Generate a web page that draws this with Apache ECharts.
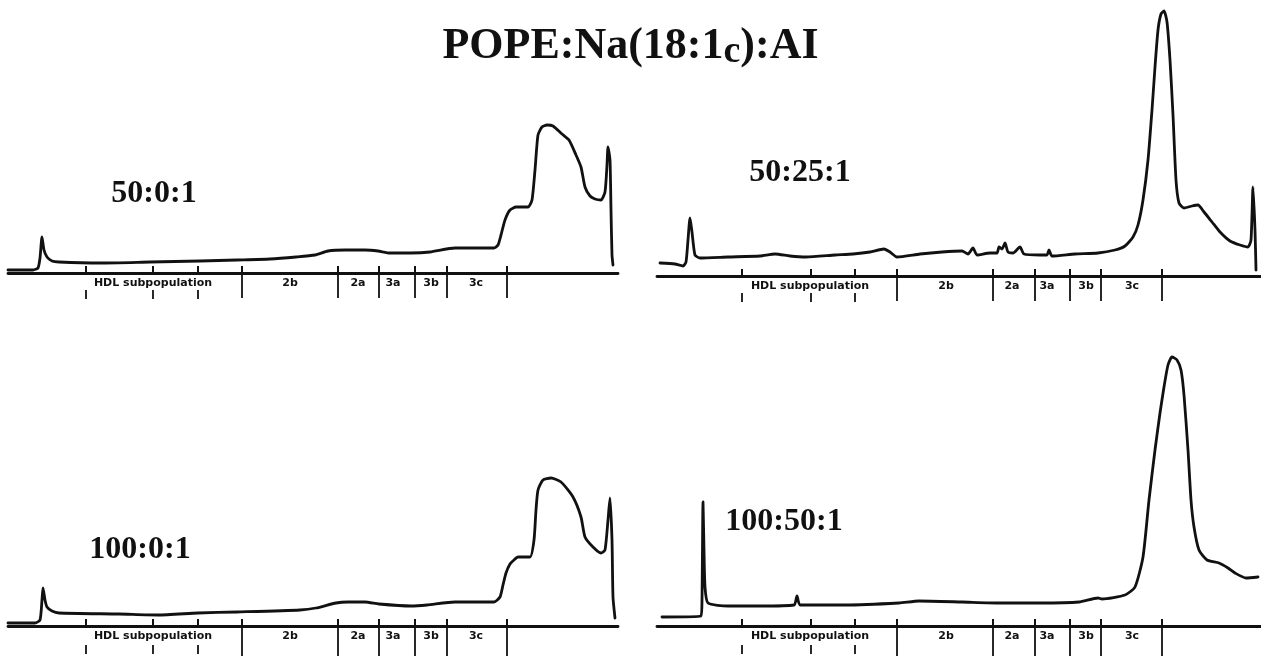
<!DOCTYPE html>
<html>
<head>
<meta charset="utf-8">
<title>POPE:Na(18:1c):AI</title>
<script src="https://cdn.jsdelivr.net/npm/echarts@6/dist/echarts.min.js"></script>
<style>
  html, body { margin: 0; padding: 0; background: #fff; }
  #chart { width: 1261px; height: 656px; }
</style>
</head>
<body>
<div id="chart"></div>
<script>
// 各面板的洗脱曲线 [x, 信号]（任意单位，从图上读取）
var trace50_0_1 = [
  [0, 3], [25, 3], [30, 5], [32, 15], [34, 36], [36, 23], [39, 16], [44, 12], [51, 11],
  [92, 10], [142, 11], [192, 12], [229, 13], [262, 14], [288, 16], [307, 18], [320, 22],
  [337, 23], [357, 23], [370, 22], [382, 20], [403, 20], [422, 21], [447, 25], [467, 25],
  [486, 25], [490, 28], [493, 38], [497, 53], [502, 63], [508, 66], [520, 66], [524, 73],
  [527, 103], [530, 138], [534, 146], [539, 148], [545, 147], [554, 139], [561, 133],
  [568, 118], [573, 106], [577, 86], [582, 77], [587, 74], [593, 73], [597, 81], [599, 108],
  [600, 126], [602, 113], [603, 63], [604, 18], [605, 8]
];
var trace50_25_1 = [
  [3, 13], [18, 12], [26, 10], [29, 14], [31, 36], [33, 58], [35, 44], [38, 21], [43, 18],
  [71, 19], [103, 20], [118, 22], [133, 20], [149, 19], [178, 21], [196, 22], [213, 24],
  [227, 27], [233, 24], [240, 19], [263, 22], [285, 24], [305, 25], [311, 22], [316, 28],
  [320, 21], [333, 23], [340, 23], [342, 29], [345, 27], [348, 33], [351, 24], [356, 23],
  [363, 29], [367, 22], [383, 21], [390, 21], [392, 26], [395, 20], [418, 22], [441, 23],
  [458, 26], [468, 30], [476, 39], [481, 51], [486, 76], [491, 116], [495, 166], [498, 209],
  [501, 246], [504, 262], [507, 265], [510, 254], [513, 216], [516, 161], [519, 96],
  [522, 73], [527, 68], [535, 70], [541, 71], [547, 64], [555, 54], [563, 44], [573, 35],
  [583, 31], [591, 29], [594, 36], [596, 89], [598, 46], [599, 6]
];
var trace100_0_1 = [
  [0, 3], [27, 3], [32, 6], [34, 26], [35, 38], [37, 26], [39, 19], [44, 15], [51, 13],
  [111, 12], [150, 11], [190, 13], [229, 14], [292, 16], [308, 18], [328, 23], [340, 24],
  [357, 24], [371, 22], [403, 20], [419, 21], [447, 24], [486, 24], [492, 29], [495, 41],
  [498, 53], [502, 62], [506, 66], [510, 69], [522, 69], [526, 86], [528, 116], [530, 136],
  [535, 146], [543, 148], [553, 144], [565, 129], [573, 109], [577, 89], [585, 79],
  [593, 73], [597, 76], [600, 106], [602, 128], [604, 86], [605, 29], [607, 8]
];
var trace100_50_1 = [
  [5, 9], [44, 10], [45, 26], [46, 124], [47, 76], [48, 39], [51, 23], [71, 20], [103, 20],
  [137, 21], [140, 30], [143, 21], [188, 21], [242, 23], [262, 25], [305, 24], [343, 23],
  [383, 23], [422, 24], [441, 28], [445, 27], [468, 31], [478, 39], [486, 69], [492, 126],
  [498, 176], [503, 213], [507, 239], [511, 261], [515, 269], [520, 266], [524, 256],
  [527, 231], [531, 176], [534, 126], [537, 99], [542, 76], [550, 66], [562, 63],
  [571, 58], [578, 53], [589, 48], [601, 49]
];

// 分区边界刻度与标签
var regionNames = ['HDL subpopulation', '2b', '2a', '3a', '3b', '3c'];
var leftMajorTicks = [234, 330, 371, 407, 439, 499];
var leftMinorTicks = [78, 145, 190];
var leftLabelPos = [145, 282, 350, 385, 423, 468];
var rightMajorTicks = [240, 336, 378, 413, 444, 505];
var rightMinorTicks = [85, 154, 198];
var rightLabelPos = [153, 289, 355, 390, 429, 475];

var panelNames = ['50:0:1', '50:25:1', '100:0:1', '100:50:1'];

window.onload = function() {
  var myChart = echarts.init(document.getElementById('chart'));

  var ink = '#111';
  var panels = [
    { grid: { left: 8, top: 3, width: 610, height: 270 }, data: trace50_0_1, side: 'left', down: 25, minorOff: 17, label: [154, 194] },
    { grid: { left: 657, top: 6, width: 604, height: 270 }, data: trace50_25_1, side: 'right', down: 25, minorOff: 17, label: [800, 173] },
    { grid: { left: 8, top: 356, width: 610, height: 270 }, data: trace100_0_1, side: 'left', down: 30, minorOff: 19, label: [140, 550] },
    { grid: { left: 657, top: 356, width: 604, height: 270 }, data: trace100_50_1, side: 'right', down: 30, minorOff: 19, label: [784, 522] }
  ];

  var grids = [], xAxes = [], yAxes = [], series = [], graphics = [];

  panels.forEach(function(p, i) {
    var major = p.side === 'left' ? leftMajorTicks : rightMajorTicks;
    var minor = p.side === 'left' ? leftMinorTicks : rightMinorTicks;
    var labelPos = p.side === 'left' ? leftLabelPos : rightLabelPos;
    var xMax = p.grid.width;

    grids.push(Object.assign({ outerBoundsMode: 'none', containLabel: false }, p.grid));

    // 主轴：轴线、向上的短刻度、分区名称
    xAxes.push({
      gridIndex: i, type: 'value', min: 0, max: xMax, position: 'bottom',
      axisLine: { show: true, onZero: false, lineStyle: { color: ink, width: 2.8 } },
      axisTick: { show: true, inside: true, length: 7, customValues: major.concat(minor), lineStyle: { color: ink, width: 2 } },
      axisLabel: {
        show: true, customValues: labelPos, margin: 5,
        color: ink, fontFamily: 'DejaVu Sans', fontWeight: 'bold', fontSize: 11,
        formatter: function(v) {
          var k = labelPos.indexOf(v);
          return k >= 0 ? regionNames[k] : '';
        }
      },
      splitLine: { show: false }
    });
    // 向下的长刻度（分区边界）
    xAxes.push({
      gridIndex: i, type: 'value', min: 0, max: xMax, position: 'bottom', offset: 0,
      axisLine: { show: false },
      axisTick: { show: true, inside: false, length: p.down, customValues: major, lineStyle: { color: ink, width: 1.8 } },
      axisLabel: { show: false }, splitLine: { show: false }
    });
    // HDL 子群下方的短刻度
    xAxes.push({
      gridIndex: i, type: 'value', min: 0, max: xMax, position: 'bottom', offset: p.minorOff,
      axisLine: { show: false },
      axisTick: { show: true, inside: false, length: 9, customValues: minor, lineStyle: { color: ink, width: 1.8 } },
      axisLabel: { show: false }, splitLine: { show: false }
    });

    yAxes.push({ gridIndex: i, type: 'value', min: 0, max: 270, show: false });

    series.push({
      type: 'line', name: panelNames[i], xAxisIndex: i * 3, yAxisIndex: i,
      data: p.data, showSymbol: false, silent: true,
      smooth: 0.2,
      lineStyle: { color: ink, width: 2.8, join: 'round', cap: 'round' }
    });

    graphics.push({
      type: 'text', x: p.label[0], y: p.label[1],
      style: {
        text: panelNames[i], fill: ink,
        font: 'bold 32px "Liberation Serif", "Times New Roman", serif',
        align: 'center', verticalAlign: 'middle',
        textAlign: 'center', textVerticalAlign: 'middle'
      }
    });
  });

  var option = {
    animation: false,
    backgroundColor: '#fff',
    title: {
      text: '{a|POPE:Na(18:1}{s|c}{a|):AI}',
      left: 'center', top: 20,
      textStyle: {
        rich: {
          a: { fontFamily: 'Liberation Serif', fontWeight: 'bold', fontSize: 44, color: ink, lineHeight: 52, verticalAlign: 'top' },
          s: { fontFamily: 'Liberation Serif', fontWeight: 'bold', fontSize: 38, color: ink, lineHeight: 52, verticalAlign: 'top', padding: [8, 0, 0, 0] }
        }
      }
    },
    grid: grids,
    xAxis: xAxes,
    yAxis: yAxes,
    graphic: graphics,
    series: series
  };

  myChart.setOption(option);
};
</script>
</body>
</html>
